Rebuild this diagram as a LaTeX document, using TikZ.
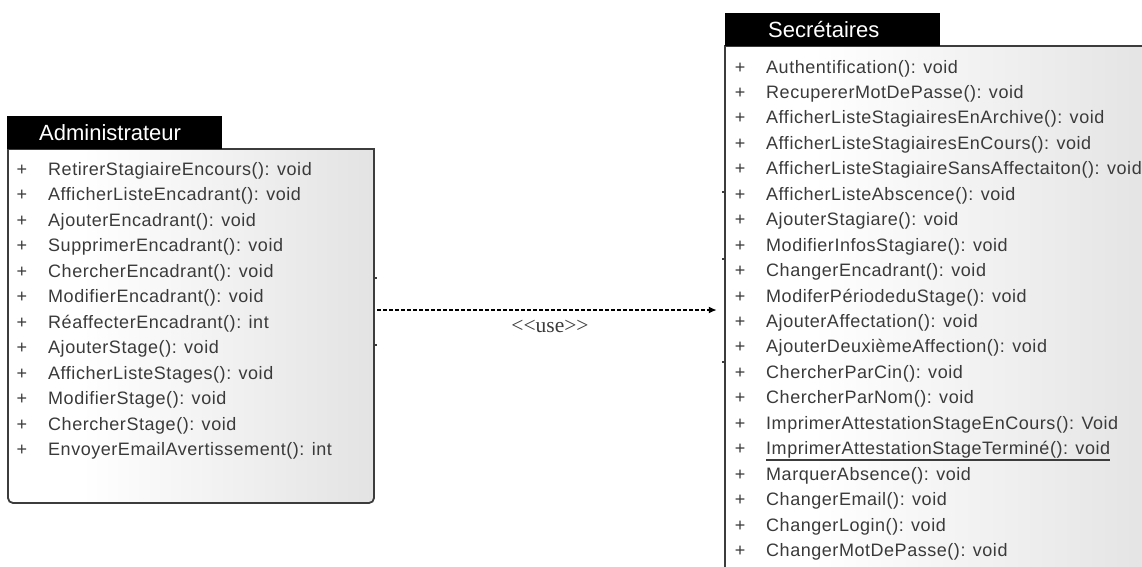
\documentclass[tikz,border=0pt]{standalone}
\usepackage{fontspec}
\setmainfont{Liberation Sans}
\newfontfamily\umlfont[LetterSpace=3]{Liberation Sans}
\newfontfamily\stereofont{Liberation Serif}
\usetikzlibrary{arrows.meta}
\definecolor{txt}{HTML}{3A3A3A}
\definecolor{bord}{HTML}{3C3C3C}
\definecolor{shadeg}{HTML}{E3E3E3}
\pgfdeclarehorizontalshading{umlshade}{100bp}{color(0bp)=(white); color(25bp)=(white); color(35bp)=(white); color(75bp)=(shadeg); color(100bp)=(shadeg)}
\begin{document}
\begin{tikzpicture}[x=1pt,y=-1pt,
  op/.style={anchor=base west, inner sep=0pt, text=txt, font=\umlfont\fontsize{18}{20}\selectfont},
  plus/.style={anchor=base, inner sep=0pt, text=txt, font=\umlfont\fontsize{18}{20}\selectfont},
  titletext/.style={anchor=base west, inner sep=0pt, text=white, font=\fontsize{22}{24}\selectfont},
  border/.style={draw=bord, line width=1.8pt},
  tick/.style={draw=bord, line width=1.5pt},
  usearrow/.style={draw=black, line width=2pt, dash pattern=on 4pt off 2pt, -{Latex[length=8pt,width=7pt]}},
  boxarea/.style={inner sep=0pt, minimum width=#1, draw=none},
]
\useasboundingbox (0,0) rectangle (1142,566);

% ---------- Administrateur ----------
\path[shade, shading=umlshade, border] (8,149) -- (374,149) -- (374,300) [rounded corners=5pt] -- (374,503) -- (8,503) -- (8,300) [sharp corners] -- cycle;
\fill[black] (7,116) rectangle (222,149);
\node[titletext] (admintitle) at (39,140) {Administrateur};
\node[boxarea=366pt, minimum height=354pt] (admin) at (191,326) {};
\foreach \t [count=\i from 0] in {
  {RetirerStagiaireEncours(): void},
  {AfficherListeEncadrant(): void},
  {AjouterEncadrant(): void},
  {SupprimerEncadrant(): void},
  {ChercherEncadrant(): void},
  {ModifierEncadrant(): void},
  {RéaffecterEncadrant(): int},
  {AjouterStage(): void},
  {AfficherListeStages(): void},
  {ModifierStage(): void},
  {ChercherStage(): void},
  {EnvoyerEmailAvertissement(): int}}{
  \node[plus] (ap\i) at (22,175+\i*25.5) {+};
  \node[op] (a\i) at (48,175+\i*25.5) {\t};
}
\draw[tick] (374,278) -- (377,278);
\draw[tick] (374,345) -- (377,345);

% ---------- Secretaires ----------
\path[shade, shading=umlshade] (725,46) rectangle (1160,580);
\draw[border] (725,590) -- (725,46) -- (1160,46);
\fill[black] (725,13) rectangle (940,46);
\node[titletext] (sectitle) at (768,37) {Secrétaires};
\node[boxarea=435pt, minimum height=534pt] (sec) at (942.5,313) {};
\foreach \t [count=\i from 0] in {
  {Authentification(): void},
  {RecupererMotDePasse(): void},
  {AfficherListeStagiairesEnArchive(): void},
  {AfficherListeStagiairesEnCours(): void},
  {AfficherListeStagiaireSansAffectaiton(): void},
  {AfficherListeAbscence(): void},
  {AjouterStagiare(): void},
  {ModifierInfosStagiare(): void},
  {ChangerEncadrant(): void},
  {ModiferPériodeduStage(): void},
  {AjouterAffectation(): void},
  {AjouterDeuxièmeAffection(): void},
  {ChercherParCin(): void},
  {ChercherParNom(): void},
  {ImprimerAttestationStageEnCours(): Void},
  {ImprimerAttestationStageTerminé(): void},
  {MarquerAbsence(): void},
  {ChangerEmail(): void},
  {ChangerLogin(): void},
  {ChangerMotDePasse(): void}}{
  \node[plus] (sp\i) at (740,73+\i*25.45) {+};
  \node[op] (s\i) at (766,73+\i*25.45) {\t};
}
\draw[bord, line width=1.8pt] ([yshift=-5pt]s15.base west) -- ([yshift=-5pt]s15.base east);
\draw[tick] (722,192) -- (725,192);
\draw[tick] (722,259) -- (725,259);
\draw[tick] (722,362) -- (725,362);

% ---------- use dependency ----------
\coordinate (ay) at (0,310);
\draw[usearrow, shorten <=3pt, shorten >=8pt] (admin.east |- ay) -- (sec.west |- ay);
\node[inner sep=0pt, text=txt, font=\stereofont\fontsize{21.5}{23}\selectfont] (uselbl) at (550,326) {\textless\textless use\textgreater\textgreater};
\end{tikzpicture}
\end{document}
